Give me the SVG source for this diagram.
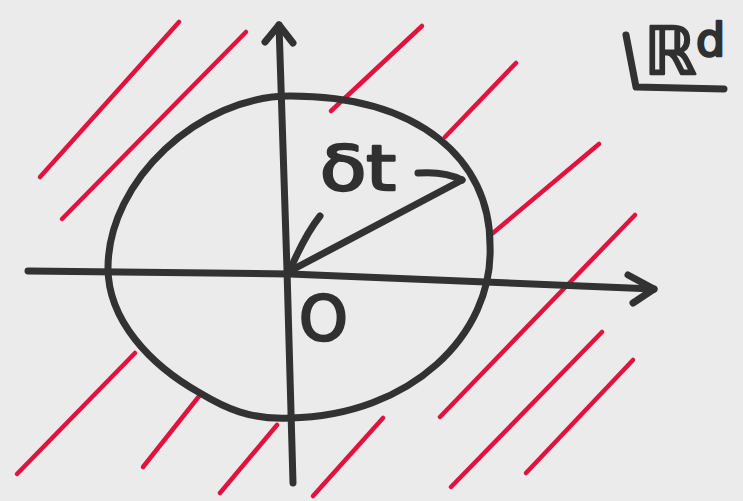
<svg xmlns="http://www.w3.org/2000/svg" width="743" height="501" viewBox="0 0 743 501">
<style>
.ink{fill:none;stroke:#323232;stroke-width:7;stroke-linecap:round;stroke-linejoin:round}
.hatch{fill:none;stroke:#e2123f;stroke-width:4.5;stroke-linecap:round}
.lbl{font-family:"DejaVu Sans","Liberation Sans",sans-serif;fill:#303030;stroke:#303030;stroke-width:2.5;stroke-linejoin:round}
</style>
<rect width="743" height="501" fill="#ebebeb"/>
<g id="hatching">
<path class="hatch" d="M40,177 L179,22"/>
<path class="hatch" d="M62,219 L246,32"/>
<path class="hatch" d="M331,111 L422,26"/>
<path class="hatch" d="M445,137 L516,63"/>
<path class="hatch" d="M493,233 L599,144"/>
<path class="hatch" d="M635,215 L440,417"/>
<path class="hatch" d="M602,332 L451,487"/>
<path class="hatch" d="M633,360 L526,473"/>
<path class="hatch" d="M383,418 L313,496"/>
<path class="hatch" d="M135,353 L17,474"/>
<path class="hatch" d="M200,395 L143,467"/>
<path class="hatch" d="M277,425 L220,493"/>
</g>
<g id="ball">
<path class="ink" d="M290,96 C420,96 490,160 490,245 C494,335 410,416 290,418 C250,420 225,408 200,393 C150,365 108,320 108,268 C108,180 200,96 290,96 Z"/>
</g>
<g id="x-axis">
<path class="ink" d="M28,271 L290,274 L654,289"/>
<path class="ink" d="M628,275 L654,289 L633,303"/>
</g>
<g id="y-axis">
<path class="ink" d="M293,483 L287,270 L279,25"/>
<path class="ink" d="M265,42 L279,25 L293,43"/>
</g>
<g id="connectors">
<path class="ink" d="M290,271 L462,180"/>
<path class="ink" d="M320,216 Q305,235 290,270"/>
<path class="ink" d="M418,173 Q445,171 462,180"/>
</g>
<g id="label-dt">
<text class="lbl" x="320" y="190" font-size="62" textLength="76" lengthAdjust="spacingAndGlyphs">δt</text>
</g>
<g id="label-origin">
<text class="lbl" x="299" y="340" font-size="62">O</text>
</g>
<g id="label-space">
<path class="ink" d="M626,35 L636,87 L724,89"/>
<text class="lbl" x="644" y="74" font-size="66">ℝ</text>
<text class="lbl" x="696" y="56" font-size="46">d</text>
</g>
</svg>
